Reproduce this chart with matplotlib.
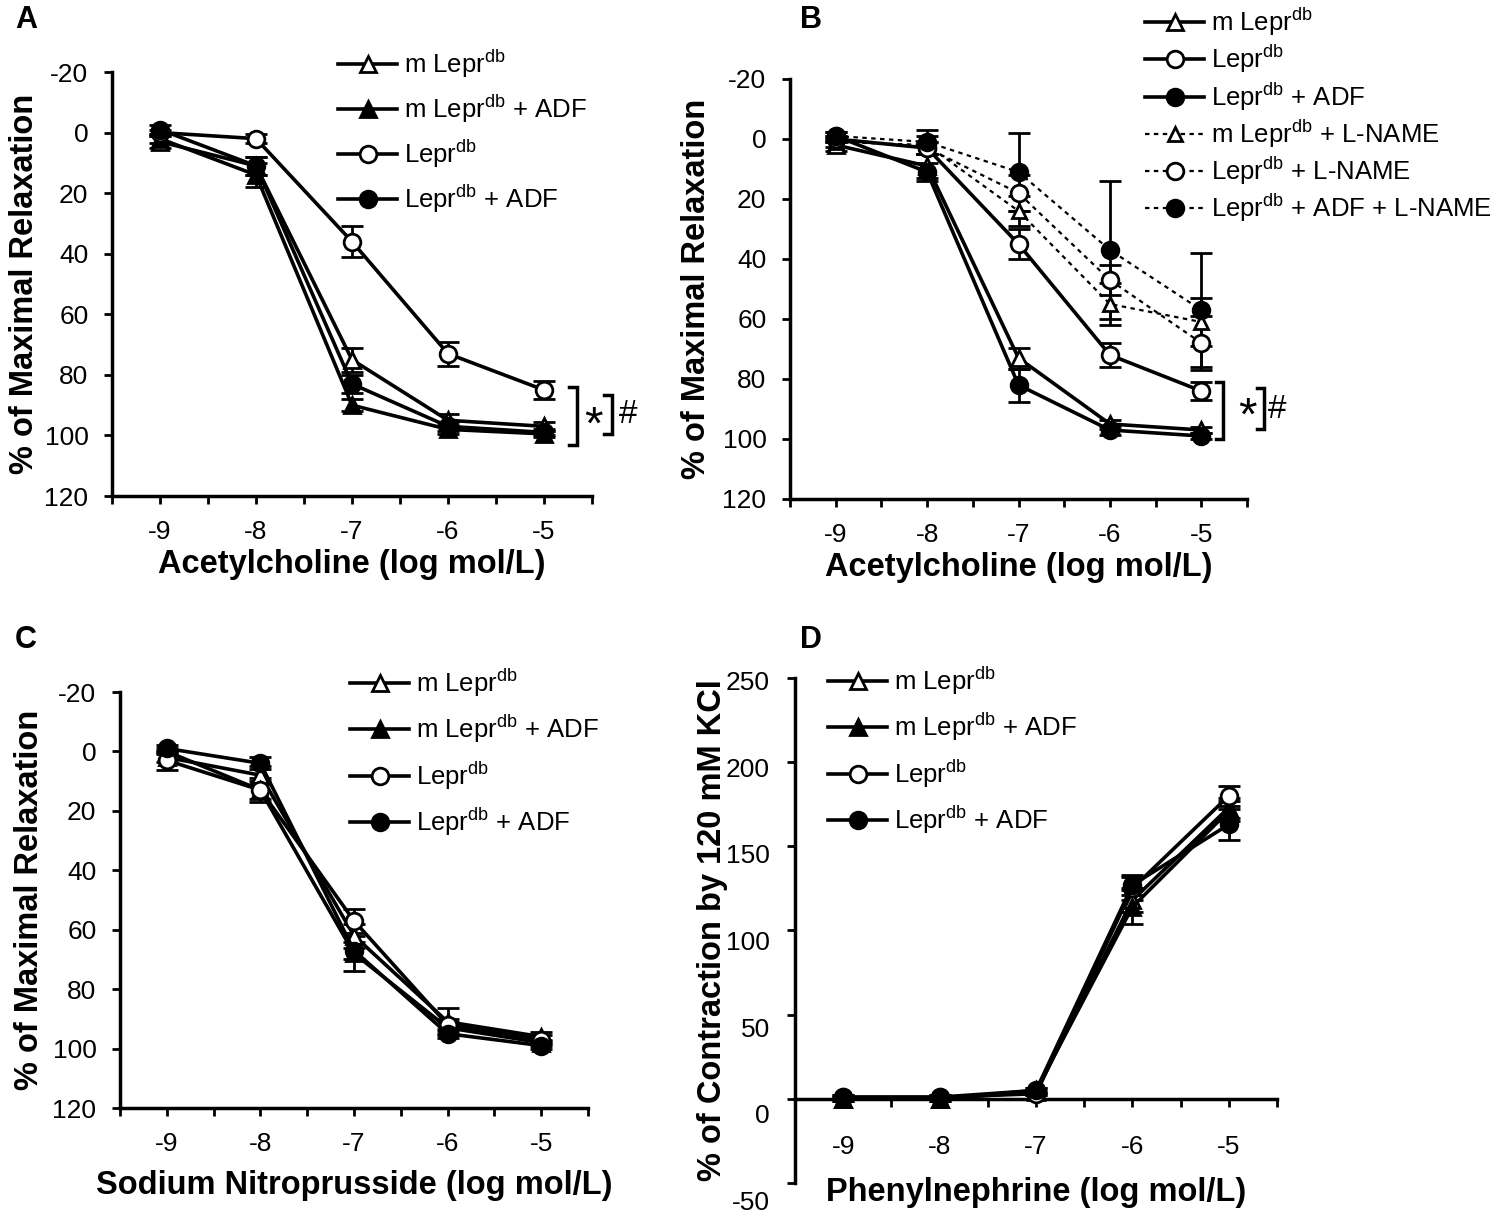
import numpy as np
import matplotlib
matplotlib.use('Agg')
import matplotlib.pyplot as plt
from matplotlib import transforms

plt.rcParams['font.family'] = ['Liberation Sans', 'DejaVu Sans']
plt.rcParams['mathtext.fontset'] = 'custom'
plt.rcParams['mathtext.rm'] = 'Liberation Sans'
plt.rcParams['mathtext.it'] = 'Liberation Sans:italic'
plt.rcParams['mathtext.bf'] = 'Liberation Sans:bold'

TICK_FS = 19
LEG_FS = 18.5
LAB_FS = 23.5

# ---------------- data ----------------
log_conc = [-9, -8, -7, -6, -5]
x_tick_labels = ['-9', '-8', '-7', '-6', '-5']
relax_ticks = [-20, 0, 20, 40, 60, 80, 100, 120]
contr_ticks = [-50, 0, 50, 100, 150, 200, 250]

# Panel A : Acetylcholine
a_mlepr = [3, 11, 75, 95, 97]
a_mlepr_err = [2, 3, 4, 2, 1.5]
a_mlepr_adf = [2, 14, 90, 98, 99.5]
a_mlepr_adf_err = [1.5, 4, 2, 1.5, 1]
a_lepr = [0, 2, 36, 73, 85]
a_lepr_err = [1, 1.5, 5, 4, 3]
a_lepr_adf = [-1, 11, 83, 97, 99]
a_lepr_adf_err = [1.5, 3, 3, 1.5, 1]

# Panel B : Acetylcholine +/- L-NAME
b_mlepr = [2, 9, 73, 95, 97]
b_mlepr_err = [2, 4, 3.5, 1.5, 1]
b_lepr = [0, 3, 35, 72, 84]
b_lepr_err = [1, 2, 5, 4, 3]
b_lepr_adf = [-1, 11, 82, 97, 99]
b_lepr_adf_err = [1.5, 3, 5.5, 1.5, 1]
b_mlepr_ln = [1, 2, 24, 55, 61]
b_mlepr_ln_err = [1.5, 3, 5, 7, 8]
b_lepr_ln = [0, 3, 18, 47, 68]
b_lepr_ln_err = [1, 2, 6, 5, 9]
b_lepr_adf_ln = [-1, 1, 11, 37, 57]
b_lepr_adf_ln_err = [1.5, 4, 13, 23, 19]

# Panel C : Sodium nitroprusside
c_mlepr = [2, 8, 62, 91, 96]
c_mlepr_err = [1.5, 3, 4, 4.5, 1.5]
c_mlepr_adf = [0, 13, 68, 93, 98]
c_mlepr_adf_err = [1, 3, 6, 2, 1]
c_lepr = [3, 13, 57, 92, 97]
c_lepr_err = [3.3, 4, 4, 2, 1.5]
c_lepr_adf = [-1, 4, 67, 95, 99]
c_lepr_adf_err = [1, 2, 3, 1.5, 1]

# Panel D : Phenylephrine
d_mlepr = [0, 0, 4, 118, 173]
d_mlepr_err = [1, 1, 1.5, 7, 6]
d_mlepr_adf = [0, 0, 5, 114, 171]
d_mlepr_adf_err = [1, 1, 1.5, 10, 6]
d_lepr = [1, 1, 3, 125, 180]
d_lepr_err = [1, 1, 1, 7, 6]
d_lepr_adf = [1, 1, 5, 127, 163]
d_lepr_adf_err = [1, 1, 1.5, 6, 9]

L_M = r'm Lepr$^{\mathrm{db}}$'
L_MA = r'm Lepr$^{\mathrm{db}}$ + ADF'
L_L = r'Lepr$^{\mathrm{db}}$'
L_LA = r'Lepr$^{\mathrm{db}}$ + ADF'
L_MN = r'm Lepr$^{\mathrm{db}}$ + L-NAME'
L_LN = r'Lepr$^{\mathrm{db}}$ + L-NAME'
L_LAN = r'Lepr$^{\mathrm{db}}$ + ADF + L-NAME'

OPEN_TRI = dict(marker='^', mfc='white')
FILL_TRI = dict(marker='^', mfc='black')
OPEN_CIR = dict(marker='o', mfc='white')
FILL_CIR = dict(marker='o', mfc='black')
DOTTED = (0, (2.0, 2.0))

W, H = 1500, 1222
fig = plt.figure(figsize=(W / 100, H / 100), dpi=100)


def px_axes(l, r, t, b):
    return fig.add_axes([l / W, 1 - b / H, (r - l) / W, (b - t) / H])


def series(ax, y, err, style, label, ls='-', lw=2.6, ms=12):
    ax.errorbar(log_conc, y, yerr=err, fmt='none', ecolor='black',
                elinewidth=2, capsize=8, capthick=2, zorder=2)
    h, = ax.plot(log_conc, y, ls=ls, lw=lw, color='black', ms=ms,
                 mec='black', mew=2, label=label, zorder=3, **style)
    return h


def setup(ax, xlim, ylim, yticks, invert, xpad=11):
    for s in ['top', 'right']:
        ax.spines[s].set_visible(False)
    for s in ['left', 'bottom']:
        ax.spines[s].set_linewidth(2.5)
    ax.set_xlim(*xlim)
    if invert:
        ax.set_ylim(ylim[1], ylim[0])
    else:
        ax.set_ylim(*ylim)
    ax.set_yticks(yticks)
    ax.set_yticklabels([str(t) for t in yticks])
    ax.set_xticks(log_conc)
    ax.set_xticklabels(x_tick_labels)
    ax.set_xticks(np.arange(-9.5, -4.4, 0.5), minor=True)
    ax.tick_params(axis='both', which='both', direction='out', length=6,
                   width=2, labelsize=TICK_FS)
    ax.tick_params(axis='x', which='major', pad=xpad)
    ax.tick_params(axis='y', pad=11)


def legend(ax, handles, x, y, spacing):
    ax.legend(handles=handles, loc='upper left', bbox_to_anchor=(x / W, 1 - y / H),
              bbox_transform=fig.transFigure, frameon=False, fontsize=LEG_FS,
              handlelength=2.3, handletextpad=0.25, labelspacing=spacing,
              borderpad=0, borderaxespad=0, numpoints=1)


def bracket(ax, x, y1, y2, arm):
    ax.plot([x - arm, x, x, x - arm], [y1, y1, y2, y2], color='black',
            lw=2.5, clip_on=False, solid_joinstyle='miter')


def labels(ax, xl, yl, xl_y, yl_x):
    ax.set_xlabel(xl, fontsize=LAB_FS, fontweight='bold')
    ax.set_ylabel(yl, fontsize=LAB_FS, fontweight='bold')
    ax.xaxis.set_label_coords(0.5, xl_y)
    ax.yaxis.set_label_coords(yl_x, 0.5)


# ---------------- Panel A ----------------
axA = px_axes(112, 592, 72, 496)
setup(axA, (-9.5, -4.5), (-20, 120), relax_ticks, True)
hA = [series(axA, a_mlepr, a_mlepr_err, OPEN_TRI, L_M),
      series(axA, a_mlepr_adf, a_mlepr_adf_err, FILL_TRI, L_MA),
      series(axA, a_lepr, a_lepr_err, OPEN_CIR, L_L),
      series(axA, a_lepr_adf, a_lepr_adf_err, FILL_CIR, L_LA)]
legend(axA, hA, 338, 48, 0.5)
labels(axA, 'Acetylcholine (log mol/L)', '% of Maximal Relaxation', -0.125, -0.15)
bracket(axA, -4.66, 84, 103, 0.08)
axA.text(-4.48, 97, '*', fontsize=34, ha='center', va='center')
bracket(axA, -4.29, 86.5, 99.5, 0.08)
axA.text(-4.12, 93, '#', fontsize=24, ha='center', va='center')

# ---------------- Panel B ----------------
axB = px_axes(790, 1247, 79, 499)
setup(axB, (-9.47, -4.5), (-20, 120), relax_ticks, True)
hB = [series(axB, b_mlepr, b_mlepr_err, OPEN_TRI, L_M),
      series(axB, b_lepr, b_lepr_err, OPEN_CIR, L_L),
      series(axB, b_lepr_adf, b_lepr_adf_err, FILL_CIR, L_LA),
      series(axB, b_mlepr_ln, b_mlepr_ln_err, OPEN_TRI, L_MN, ls=DOTTED, lw=1.6, ms=10),
      series(axB, b_lepr_ln, b_lepr_ln_err, OPEN_CIR, L_LN, ls=DOTTED, lw=1.6),
      series(axB, b_lepr_adf_ln, b_lepr_adf_ln_err, FILL_CIR, L_LAN, ls=DOTTED, lw=1.6)]
legend(axB, hB, 1145, 6, 0.2)
labels(axB, 'Acetylcholine (log mol/L)', '% of Maximal Relaxation', -0.127, -0.17)
bracket(axB, -4.76, 81, 100, 0.08)
axB.text(-4.49, 93, '*', fontsize=34, ha='center', va='center')
bracket(axB, -4.31, 83, 96.5, 0.08)
axB.text(-4.17, 90, '#', fontsize=24, ha='center', va='center')

# ---------------- Panel C ----------------
axC = px_axes(120, 588, 692, 1108)
setup(axC, (-9.48, -4.5), (-20, 120), relax_ticks, True)
hC = [series(axC, c_mlepr, c_mlepr_err, OPEN_TRI, L_M),
      series(axC, c_mlepr_adf, c_mlepr_adf_err, FILL_TRI, L_MA),
      series(axC, c_lepr, c_lepr_err, OPEN_CIR, L_L),
      series(axC, c_lepr_adf, c_lepr_adf_err, FILL_CIR, L_LA)]
legend(axC, hC, 350, 667, 0.55)
labels(axC, 'Sodium Nitroprusside (log mol/L)', '% of Maximal Relaxation', -0.148, -0.16)

# ---------------- Panel D ----------------
axD = px_axes(795, 1277, 678, 1183)
setup(axD, (-9.5, -4.5), (-50, 250), contr_ticks, False, xpad=20)
axD.spines['bottom'].set_position(('data', 0))
# y tick labels of D sit a little below their tick marks in the original
axD.set_yticklabels([])
for v in contr_ticks:
    off_px = 5 + (250 - v) / 300 * 15
    tr = axD.get_yaxis_transform() + transforms.ScaledTranslation(
        -18 / 72, -off_px / 100, fig.dpi_scale_trans)
    axD.text(0, v, str(v), transform=tr, ha='right', va='center',
             fontsize=TICK_FS)
hD = [series(axD, d_mlepr, d_mlepr_err, OPEN_TRI, L_M),
      series(axD, d_mlepr_adf, d_mlepr_adf_err, FILL_TRI, L_MA),
      series(axD, d_lepr, d_lepr_err, OPEN_CIR, L_L),
      series(axD, d_lepr_adf, d_lepr_adf_err, FILL_CIR, L_LA)]
legend(axD, hD, 828, 665, 0.55)
labels(axD, 'Phenylnephrine (log mol/L)', '% of Contraction by 120 mM KCl', 0.012, -0.14)

# panel letters
for letter, (px, py) in zip('ABCD', [(15, 20), (800, 20), (15, 640), (800, 640)]):
    fig.text(px / W, 1 - py / H, letter, fontsize=22, fontweight='bold',
             ha='left', va='center')

fig.savefig('out.png', dpi=100)
